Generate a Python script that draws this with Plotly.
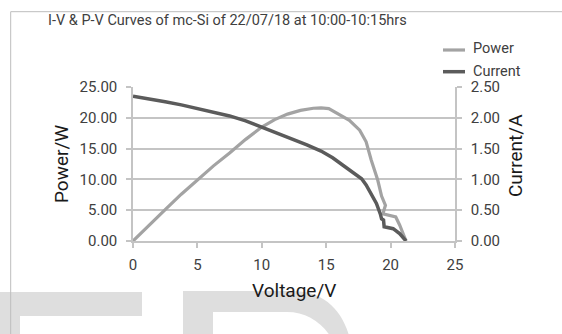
import plotly.graph_objects as go

# Measured I-V / P-V data for the mc-Si module
voltage_p = [0, 1.25, 2.5, 3.75, 5, 6.25, 7.5, 8.75, 10, 11, 12, 13, 14, 14.6, 15.2,
             16.0, 16.8, 17.6, 18.1, 18.5, 19.0, 19.3, 19.6, 19.4, 20.4, 20.7, 21.2]
power_w = [0, 2.6, 5.1, 7.6, 9.9, 12.2, 14.3, 16.5, 18.5, 19.7, 20.6, 21.2, 21.55, 21.6, 21.5,
           20.6, 19.6, 18.0, 16.1, 13.1, 9.9, 7.3, 5.8, 4.4, 3.9, 2.6, 0]

voltage_i = [0, 1.25, 2.5, 3.75, 5, 6.25, 7.5, 8.75, 10, 11.4, 12.5, 13.5, 14.6, 15.5,
             16.3, 17.1, 17.75, 18.1, 18.5, 18.9, 19.2, 19.3, 19.45, 19.5, 20.2, 20.7, 21.2]
current_a = [2.35, 2.31, 2.26, 2.21, 2.15, 2.09, 2.03, 1.95, 1.85, 1.73, 1.65, 1.56, 1.46,
             1.35, 1.23, 1.10, 1.01, 0.91, 0.77, 0.61, 0.44, 0.36, 0.34, 0.23, 0.20, 0.12, 0]

x_ticks = [0, 5, 10, 15, 20, 25]
power_ticks = [0, 5, 10, 15, 20, 25]
current_ticks = [0, 0.5, 1.0, 1.5, 2.0, 2.5]

POWER_COLOR = "#a3a3a3"
CURRENT_COLOR = "#5b5b5b"
GRID = "#c4c4c4"
TICK_TXT = "#404040"
FONT = "Roboto"

W, H = 562, 334
L, R, T, B = 133, 107, 87, 93
PW, PH = W - L - R, H - T - B


def px(x):
    return (x - L) / PW


def py(y):
    return 1 - (y - T) / PH


fig = go.Figure()
fig.add_trace(go.Scatter(x=voltage_p, y=power_w, mode="lines", name="Power",
                         line=dict(color=POWER_COLOR, width=3.2), yaxis="y"))
fig.add_trace(go.Scatter(x=voltage_i, y=current_a, mode="lines", name="Current",
                         line=dict(color=CURRENT_COLOR, width=3.5), yaxis="y2"))

axis_common = dict(showline=True, linecolor=GRID, linewidth=1.5, ticks="outside",
                   ticklen=5, tickcolor=GRID, tickwidth=1.5, zeroline=False,
                   tickfont=dict(family=FONT, size=15, color=TICK_TXT))

shapes = []
annotations = []

# outer frame (top and left edges)
shapes.append(dict(type="line", xref="paper", yref="paper", x0=px(10.7), x1=px(W + 5),
                   y0=py(11.7), y1=py(11.7), line=dict(color="#bdbdbd", width=1)))
shapes.append(dict(type="line", xref="paper", yref="paper", x0=px(10.7), x1=px(10.7),
                   y0=py(11.7), y1=py(H + 5), line=dict(color="#bdbdbd", width=1)))

# faint background lettering at the bottom
wm = "#dedede"
shapes.append(dict(type="rect", xref="paper", yref="paper", layer="below",
                   x0=px(-2), x1=px(142), y0=py(292), y1=py(316),
                   fillcolor=wm, line=dict(width=0)))
shapes.append(dict(type="rect", xref="paper", yref="paper", layer="below",
                   x0=px(-2), x1=px(20), y0=py(316), y1=py(H + 5),
                   fillcolor=wm, line=dict(width=0)))

d_outer = (f"M{px(183)},{py(H + 5)} L{px(183)},{py(291)} L{px(292)},{py(291)} "
           f"C{px(322)},{py(291)} {px(342)},{py(308)} {px(350)},{py(H + 5)} Z")
d_inner = (f"M{px(213)},{py(H + 5)} L{px(213)},{py(312)} L{px(287)},{py(312)} "
           f"C{px(306)},{py(312)} {px(322)},{py(322)} {px(332)},{py(H + 5)} Z")
shapes.append(dict(type="path", xref="paper", yref="paper", layer="below", path=d_outer,
                   fillcolor=wm, line=dict(width=0)))
shapes.append(dict(type="path", xref="paper", yref="paper", layer="below", path=d_inner,
                   fillcolor="white", line=dict(width=0)))

# legend
for name, color, yl, yt, wdt in [("Power", POWER_COLOR, 50, 48.5, 3.2),
                                  ("Current", CURRENT_COLOR, 71.7, 71, 3.5)]:
    shapes.append(dict(type="line", xref="paper", yref="paper", x0=px(443), x1=px(465),
                       y0=py(yl), y1=py(yl), line=dict(color=color, width=wdt)))
    annotations.append(dict(text=name, xref="paper", yref="paper", x=px(471), y=py(yt),
                            xanchor="left", yanchor="middle", showarrow=False,
                            font=dict(family=FONT, size=14.5, color=TICK_TXT)))

# title
annotations.append(dict(text="I-V & P-V Curves of mc-Si of 22/07/18 at 10:00-10:15hrs",
                        xref="paper", yref="paper", x=px(46), y=py(20), xanchor="left",
                        yanchor="middle", showarrow=False,
                        font=dict(family=FONT, size=14.5, color=TICK_TXT)))

# axis titles
title_font = dict(family=FONT, size=19, color="#1a1a1a")
annotations.append(dict(text="Power/W", xref="paper", yref="paper", x=px(61), y=py(164),
                        textangle=-90, showarrow=False, xanchor="center", yanchor="middle",
                        font=title_font))
annotations.append(dict(text="Current/A", xref="paper", yref="paper", x=px(515), y=py(156),
                        textangle=-90, showarrow=False, xanchor="center", yanchor="middle",
                        font=title_font))
annotations.append(dict(text="Voltage/V", xref="paper", yref="paper", x=px(293.5), y=py(290),
                        showarrow=False, xanchor="center", yanchor="middle", font=title_font))

fig.update_layout(
    width=W, height=H, autosize=False,
    margin=dict(l=L, r=R, t=T, b=B, pad=0),
    paper_bgcolor="white", plot_bgcolor="white",
    showlegend=False,
    xaxis=dict(range=[0, 25], tickvals=x_ticks, ticktext=[str(v) for v in x_ticks],
               showgrid=False, ticklabelstandoff=4, **axis_common),
    yaxis=dict(range=[0, 25], tickvals=power_ticks,
               ticktext=[f"{v:.2f}" for v in power_ticks],
               showgrid=True, gridcolor=GRID, gridwidth=1.5, ticklabelstandoff=6,
               **axis_common),
    yaxis2=dict(range=[0, 2.5], tickvals=current_ticks,
                ticktext=[f"{v:.2f}" for v in current_ticks],
                overlaying="y", side="right", showgrid=False, ticklabelstandoff=6,
                **axis_common),
    shapes=shapes,
    annotations=annotations,
)

fig.write_html("out.html")
